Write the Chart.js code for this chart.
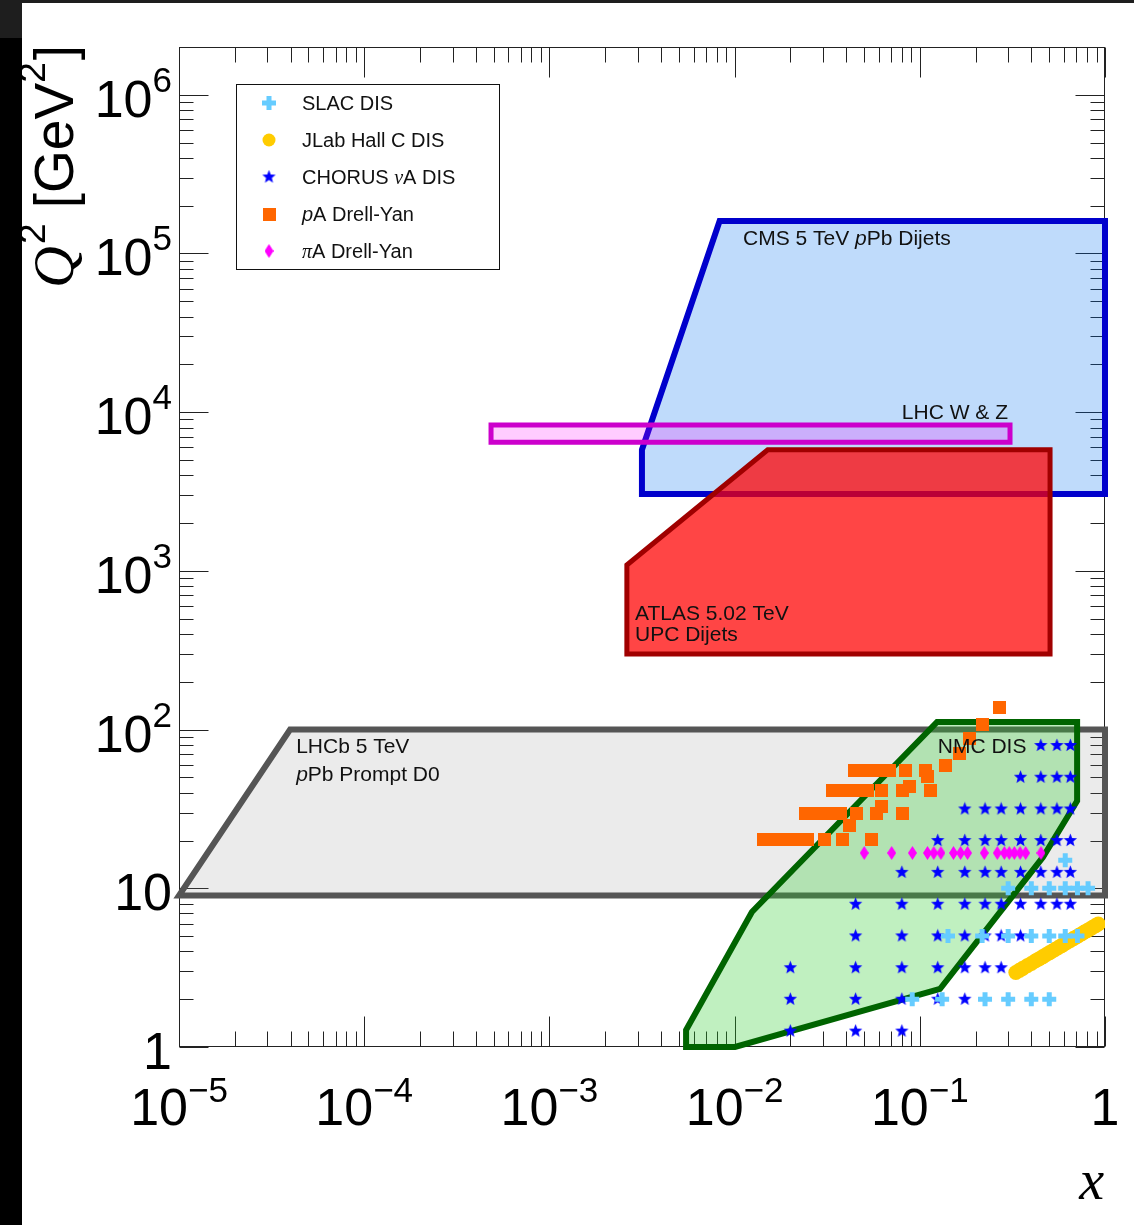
<!DOCTYPE html>
<html>
<head>
<meta charset="utf-8">
<title>Nuclear PDF data coverage in x and Q2</title>
<script src="https://cdn.jsdelivr.net/npm/chart.js@4.4.1/dist/chart.umd.min.js"></script>
<style>
  html, body { margin: 0; padding: 0; background: #fff; }
  canvas { display: block; }
</style>
</head>
<body>
<canvas id="chart" width="1134" height="1225"></canvas>
<script>
// ---------------- axis ticks ----------------
const xTickValues = [1e-5, 1e-4, 1e-3, 1e-2, 1e-1, 1];
const xTickBase = ['10', '10', '10', '10', '10', '1'];
const xTickExp = ['\u22125', '\u22124', '\u22123', '\u22122', '\u22121', ''];
const yTickValues = [1, 10, 100, 1e3, 1e4, 1e5, 1e6];
const yTickBase = ['1', '10', '10', '10', '10', '10', '10'];
const yTickExp = ['', '', '2', '3', '4', '5', '6'];

// ---------------- point data sets ----------------
const slacX = [0.091, 0.132, 0.225, 0.30, 0.40, 0.50,
               0.142, 0.217, 0.30, 0.40, 0.50, 0.61, 0.71,
               0.30, 0.40, 0.50, 0.61, 0.71, 0.81,
               0.61];
const slacQ2 = [2.0, 2.0, 2.0, 2.0, 2.0, 2.0,
                5.0, 5.0, 5.0, 5.0, 5.0, 5.0, 5.0,
                10, 10, 10, 10, 10, 10,
                15];

const jlabX = [0.33, 0.345, 0.36, 0.38, 0.40, 0.42, 0.44, 0.46, 0.48, 0.50, 0.52, 0.54, 0.56,
               0.58, 0.60, 0.625, 0.65, 0.675, 0.70, 0.725, 0.75, 0.775, 0.80, 0.83, 0.86,
               0.89, 0.92];
const jlabQ2 = [2.95, 3.04, 3.13, 3.25, 3.36, 3.48, 3.59, 3.70, 3.81, 3.92, 4.03, 4.13, 4.24,
                4.34, 4.44, 4.57, 4.69, 4.82, 4.94, 5.06, 5.18, 5.30, 5.41, 5.55, 5.69,
                5.82, 5.96];

const chorusX = [
  0.020, 0.045, 0.080,
  0.020, 0.045, 0.080, 0.125, 0.175,
  0.020, 0.045, 0.080, 0.125, 0.175, 0.225, 0.275,
  0.045, 0.080, 0.125, 0.175, 0.225, 0.275, 0.35,
  0.045, 0.080, 0.125, 0.175, 0.225, 0.275, 0.35, 0.45, 0.55, 0.65,
  0.080, 0.125, 0.175, 0.225, 0.275, 0.35, 0.45, 0.55, 0.65,
  0.125, 0.175, 0.225, 0.275, 0.35, 0.45, 0.55, 0.65,
  0.175, 0.225, 0.275, 0.35, 0.45, 0.55, 0.65,
  0.35, 0.45, 0.55, 0.65,
  0.45, 0.55, 0.65];
const chorusQ2 = [
  1.26, 1.26, 1.26,
  2.0, 2.0, 2.0, 2.0, 2.0,
  3.16, 3.16, 3.16, 3.16, 3.16, 3.16, 3.16,
  5.01, 5.01, 5.01, 5.01, 5.01, 5.01, 5.01,
  7.94, 7.94, 7.94, 7.94, 7.94, 7.94, 7.94, 7.94, 7.94, 7.94,
  12.6, 12.6, 12.6, 12.6, 12.6, 12.6, 12.6, 12.6, 12.6,
  20, 20, 20, 20, 20, 20, 20, 20,
  31.6, 31.6, 31.6, 31.6, 31.6, 31.6, 31.6,
  50.1, 50.1, 50.1, 50.1,
  79.4, 79.4, 79.4];

const pADYX = [
  0.0144, 0.0157, 0.0171, 0.0187, 0.0207, 0.0225, 0.0246, 0.0304, 0.0384, 0.0546,
  0.0415,
  0.0240, 0.0262, 0.0286, 0.0312, 0.0340, 0.0371, 0.0453, 0.0581, 0.0811, 0.0625,
  0.0336, 0.0366, 0.0400, 0.0436, 0.0475, 0.0519, 0.0625, 0.0811, 0.0885, 0.1148,
  0.0442, 0.0482, 0.0525, 0.0573, 0.0625, 0.0690, 0.0832, 0.1079, 0.1107,
  0.1368, 0.163, 0.1866, 0.2168, 0.268];
const pADYQ2 = [
  20.2, 20.2, 20.2, 20.2, 20.2, 20.2, 20.2, 20.2, 20.2, 20.2,
  24.7,
  29.8, 29.8, 29.8, 29.8, 29.8, 29.8, 29.8, 29.8, 29.8, 33.0,
  41.6, 41.6, 41.6, 41.6, 41.6, 41.6, 41.6, 41.6, 43.5, 41.6,
  55.6, 55.6, 55.6, 55.6, 55.6, 55.6, 55.6, 55.6, 50.3,
  59.0, 70.2, 88.5, 106.9, 136.8];

const piADYX = [0.0501, 0.0705, 0.0912, 0.110, 0.119, 0.130, 0.152, 0.166, 0.181,
                0.223, 0.262, 0.286, 0.304, 0.324, 0.348, 0.373, 0.451];
const piADYQ2 = [16.7, 16.7, 16.7, 16.7, 16.7, 16.7, 16.7, 16.7, 16.7,
                 16.7, 16.7, 16.7, 16.7, 16.7, 16.7, 16.7, 16.7];

// ---------------- coverage regions (closed outlines) ----------------
const cmsX  = [3.16e-3, 3.16e-3, 8.3e-3, 1, 1, 3.16e-3];
const cmsQ2 = [3.05e3, 5.8e3, 1.6e5, 1.6e5, 3.05e3, 3.05e3];

const wzX  = [4.84e-4, 4.84e-4, 0.307, 0.307, 4.84e-4];
const wzQ2 = [6464, 8315, 8315, 6464, 6464];

const atlasX  = [2.62e-3, 2.62e-3, 0.0151, 0.505, 0.505, 2.62e-3];
const atlasQ2 = [299, 1.09e3, 5.8e3, 5.8e3, 299, 299];

const lhcbX  = [1, 1e-5, 3.98e-5, 1, 1];
const lhcbQ2 = [9.0, 9.0, 100, 100, 9.0];

const nmcX  = [5.47e-3, 5.47e-3, 0.0124, 0.124, 0.707, 0.707, 0.462, 0.1285, 0.01005, 5.47e-3];
const nmcQ2 = [1, 1.28, 7.09, 111.7, 111.7, 35.5, 15.7, 2.32, 1, 1];

// ---------------- texts ----------------
const legendLabels = [
  [['SLAC DIS', 'n']],
  [['JLab Hall C DIS', 'n']],
  [['CHORUS ', 'n'], ['\u03bd', 'g'], ['A DIS', 'n']],
  [['p', 'i'], ['A Drell-Yan', 'n']],
  [['\u03c0', 'g'], ['A Drell-Yan', 'n']]
];
const regionLabels = [
  [['CMS 5 TeV ', 'n'], ['p', 'i'], ['Pb Dijets', 'n']],
  [['LHC W & Z', 'n']],
  [['ATLAS 5.02 TeV', 'n']],
  [['UPC Dijets', 'n']],
  [['LHCb 5 TeV', 'n']],
  [['p', 'i'], ['Pb Prompt D0', 'n']],
  [['NMC DIS', 'n']]
];
// label anchors (left end of the baseline) in x and Q^2
const regionLabelX  = [0.0111, 0.080, 2.9e-3, 2.9e-3, 4.29e-5, 4.29e-5, 0.125];
const regionLabelQ2 = [1.13e5, 9.1e3, 491, 362, 71.2, 47.4, 71.2];

// ---------------- helpers ----------------
const SANS = '"Liberation Sans", Arial, Helvetica, sans-serif';
const SERIF = '"Liberation Serif", "Times New Roman", serif';
function fontFor(style, size) {
  if (style === 'i') return 'italic ' + size + 'px ' + SANS;
  if (style === 'g') return 'italic ' + size + 'px ' + SERIF;
  return size + 'px ' + SANS;
}
function drawRuns(ctx, runs, x, y, size) {
  let cx = x;
  ctx.textAlign = 'left';
  ctx.textBaseline = 'alphabetic';
  for (const [t, s] of runs) {
    ctx.font = fontFor(s, size);
    ctx.fillText(t, cx, y);
    cx += ctx.measureText(t).width;
  }
}
function pts(xs, ys) { return xs.map((v, i) => ({ x: v, y: ys[i] })); }

function makeMarker(w, h, paint) {
  const c = document.createElement('canvas');
  c.width = w; c.height = h;
  paint(c.getContext('2d'), w, h);
  return c;
}
const starMarker = makeMarker(15, 15, (g, w, h) => {
  g.fillStyle = '#0000ff';
  g.beginPath();
  for (let k = 0; k < 10; k++) {
    const r = k % 2 ? 3.0 : 7;
    const a = -Math.PI / 2 + k * Math.PI / 5;
    g.lineTo(w / 2 + r * Math.cos(a), h / 2 + r * Math.sin(a));
  }
  g.closePath();
  g.fill();
});
const squareMarker = makeMarker(13, 13, (g, w, h) => {
  g.fillStyle = '#ff6600';
  g.fillRect(0, 0, w, h);
});
const diamondMarker = makeMarker(9, 14, (g, w, h) => {
  g.fillStyle = '#ff00ff';
  g.beginPath();
  g.moveTo(w / 2, 0); g.lineTo(w, h / 2); g.lineTo(w / 2, h); g.lineTo(0, h / 2);
  g.closePath();
  g.fill();
});

// ---------------- datasets ----------------
const markerSets = [
  { label: 'SLAC DIS', data: pts(slacX, slacQ2), pointStyle: 'cross', pointRadius: 7,
    pointBorderWidth: 5, pointBorderColor: '#66ccff', pointBackgroundColor: '#66ccff', order: 0 },
  { label: 'JLab Hall C DIS', data: pts(jlabX, jlabQ2), pointStyle: 'circle', pointRadius: 7.5,
    pointBorderWidth: 0, pointBackgroundColor: '#ffcc00', pointBorderColor: '#ffcc00', order: 1 },
  { label: 'CHORUS vA DIS', data: pts(chorusX, chorusQ2), pointStyle: starMarker, pointRadius: 6,
    order: 2 },
  { label: 'pA Drell-Yan', data: pts(pADYX, pADYQ2), pointStyle: squareMarker, pointRadius: 6,
    order: 3 },
  { label: 'piA Drell-Yan', data: pts(piADYX, piADYQ2), pointStyle: diamondMarker, pointRadius: 6,
    order: 4 }
];
function region(label, xs, ys, fillColor, lineColor, width, order) {
  return {
    label, data: pts(xs, ys), showLine: true, fill: 'shape',
    backgroundColor: fillColor, borderColor: lineColor, borderWidth: width,
    borderJoinStyle: 'miter', borderCapStyle: 'square', tension: 0,
    pointRadius: 0, clip: false, order
  };
}
const regionSets = [
  region('ATLAS UPC', atlasX, atlasQ2, 'rgba(255,0,0,0.73)', '#a00000', 5, 10),
  region('LHC W & Z', wzX, wzQ2, 'rgba(255,0,255,0.2)', '#cc00cc', 5, 11),
  region('CMS dijets', cmsX, cmsQ2, 'rgba(0,110,240,0.25)', '#0000cc', 6, 12),
  region('NMC DIS', nmcX, nmcQ2, 'rgba(45,205,45,0.3)', '#006400', 6, 13),
  region('LHCb D0', lhcbX, lhcbQ2, 'rgba(128,128,128,0.16)', '#555555', 6, 14)
];

// ---------------- plugins ----------------
const backdrop = {
  id: 'backdrop',
  beforeDraw(chart) {
    const { ctx, width, height } = chart;
    ctx.save();
    ctx.fillStyle = '#ffffff';
    ctx.fillRect(0, 0, width, height);
    ctx.fillStyle = '#1e1e1e';
    ctx.fillRect(0, 0, width, 3);
    ctx.fillRect(0, 0, 22, 38);
    ctx.fillStyle = '#000000';
    ctx.fillRect(0, 38, 22, height - 38);
    ctx.restore();
  }
};

const frameTicks = {
  id: 'frameTicks',
  beforeDatasetsDraw(chart) {
    const { ctx, chartArea: a, scales: { x, y } } = chart;
    ctx.save();
    ctx.strokeStyle = '#222';
    ctx.lineWidth = 1;
    const L = Math.round(a.left) + 0.5, R = Math.round(a.right) - 0.5;
    const T = Math.round(a.top) + 0.5, B = Math.round(a.bottom) - 0.5;
    ctx.strokeRect(L, T, R - L, B - T);
    ctx.beginPath();
    // x ticks on bottom and top edges
    for (let d = -5; d <= 0; d++) {
      for (let m = 1; m <= 9; m++) {
        const v = m * Math.pow(10, d);
        if (v > 1.0001) break;
        const px = Math.round(x.getPixelForValue(v)) + 0.5;
        const len = m === 1 ? 30 : 15;
        ctx.moveTo(px, B); ctx.lineTo(px, B - len);
        ctx.moveTo(px, T); ctx.lineTo(px, T + len);
      }
    }
    // y ticks on left and right edges
    for (let d = 0; d <= 6; d++) {
      for (let m = 1; m <= 9; m++) {
        const v = m * Math.pow(10, d);
        if (v > 2e6 * 0.999) break;
        const py = Math.round(y.getPixelForValue(v)) + 0.5;
        const len = m === 1 ? 29 : 14;
        ctx.moveTo(L, py); ctx.lineTo(L + len, py);
        ctx.moveTo(R, py); ctx.lineTo(R - len, py);
      }
    }
    ctx.stroke();
    ctx.restore();
  }
};

const annotations = {
  id: 'annotations',
  afterDatasetsDraw(chart) {
    const { ctx, scales: { x, y } } = chart;
    ctx.save();
    // region labels
    ctx.fillStyle = '#111';
    regionLabels.forEach((runs, i) => {
      drawRuns(ctx, runs, x.getPixelForValue(regionLabelX[i]), y.getPixelForValue(regionLabelQ2[i]), 21);
    });
    // legend box
    const box = { left: 236.5, top: 84.5, width: 263, height: 185 };
    ctx.fillStyle = '#ffffff';
    ctx.fillRect(box.left, box.top, box.width, box.height);
    ctx.strokeStyle = '#111';
    ctx.lineWidth = 1;
    ctx.strokeRect(box.left, box.top, box.width, box.height);
    const rowY = [103, 140, 177, 214, 251];
    markerSets.forEach((ds, i) => {
      ctx.save();
      ctx.fillStyle = ds.pointBackgroundColor || '#000';
      ctx.strokeStyle = ds.pointBorderColor || '#000';
      ctx.lineWidth = ds.pointBorderWidth || 0;
      Chart.helpers.drawPoint(ctx, {
        pointStyle: ds.pointStyle,
        radius: ds.pointStyle === 'circle' ? 6.5 : ds.pointRadius,
        borderWidth: ds.pointBorderWidth || 0,
        rotation: 0
      }, 269, rowY[i]);
      ctx.restore();
      ctx.fillStyle = '#111';
      drawRuns(ctx, legendLabels[i], 302, rowY[i] + 7, 20);
    });
    ctx.restore();
  },
  afterDraw(chart) {
    const { ctx, chartArea: a, scales: { x, y } } = chart;
    ctx.save();
    ctx.fillStyle = '#000';
    ctx.textBaseline = 'alphabetic';
    ctx.textAlign = 'left';
    const baseF = '52px ' + SANS, supF = '35px ' + SANS;
    // x tick labels, centred on the tick
    xTickValues.forEach((v, i) => {
      ctx.font = baseF; const wb = ctx.measureText(xTickBase[i]).width;
      ctx.font = supF; const we = xTickExp[i] ? ctx.measureText(xTickExp[i]).width : 0;
      const x0 = x.getPixelForValue(v) - (wb + we) / 2;
      const yb = a.bottom + 78;
      ctx.font = baseF; ctx.fillText(xTickBase[i], x0, yb);
      if (xTickExp[i]) { ctx.font = supF; ctx.fillText(xTickExp[i], x0 + wb, yb - 23); }
    });
    // y tick labels, right aligned
    yTickValues.forEach((v, i) => {
      ctx.font = baseF; const wb = ctx.measureText(yTickBase[i]).width;
      ctx.font = supF; const we = yTickExp[i] ? ctx.measureText(yTickExp[i]).width : 0;
      const x0 = 172 - wb - we;
      const yb = y.getPixelForValue(v) + 22;
      ctx.font = baseF; ctx.fillText(yTickBase[i], x0, yb);
      if (yTickExp[i]) { ctx.font = supF; ctx.fillText(yTickExp[i], x0 + wb, yb - 25); }
    });
    // y axis title: Q^2 [GeV^2]
    ctx.save();
    ctx.translate(73, a.top - 2);
    ctx.rotate(-Math.PI / 2);
    const parts = [
      ['Q', 'italic 58px ' + SERIF, 0, 2],
      ['2', '37px ' + SANS, 28, 0],
      [' [GeV', '55px ' + SANS, 0, 0],
      ['2', '37px ' + SANS, 28, 2],
      [']', '55px ' + SANS, 0, 0]
    ];
    let total = 0;
    parts.forEach(p => { ctx.font = p[1]; total += ctx.measureText(p[0]).width + p[3]; });
    let cx = -total;
    parts.forEach(p => { ctx.font = p[1]; ctx.fillText(p[0], cx, -p[2]); cx += ctx.measureText(p[0]).width + p[3]; });
    ctx.restore();
    // x axis title
    ctx.font = 'italic 56px ' + SERIF;
    ctx.textAlign = 'right';
    ctx.fillText('x', a.right - 1, a.bottom + 152);
    ctx.restore();
  }
};

// ---------------- chart ----------------
new Chart(document.getElementById('chart'), {
  type: 'scatter',
  data: { datasets: [...markerSets, ...regionSets] },
  options: {
    responsive: false,
    devicePixelRatio: 1,
    animation: false,
    events: [],
    layout: { padding: { left: 179, right: 29, top: 47, bottom: 178 } },
    scales: {
      x: { type: 'logarithmic', min: 1e-5, max: 1, display: false },
      y: { type: 'logarithmic', min: 1, max: 2e6, display: false }
    },
    plugins: {
      legend: { display: false },
      tooltip: { enabled: false }
    }
  },
  plugins: [backdrop, frameTicks, annotations]
});
</script>
</body>
</html>
